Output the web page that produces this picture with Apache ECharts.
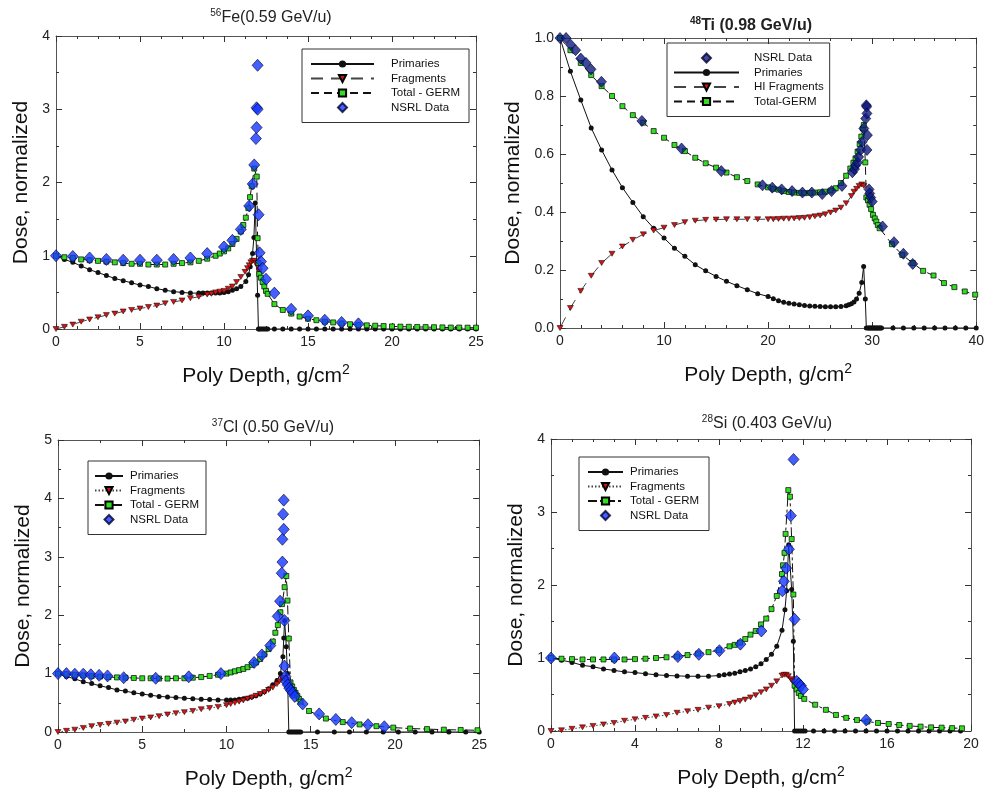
<!DOCTYPE html>
<html>
<head>
<meta charset="utf-8">
<script src="https://cdn.jsdelivr.net/npm/echarts@6/dist/echarts.min.js"></script>
<style>
  html, body { margin: 0; padding: 0; background: #fff; }
  .panel { position: absolute; }
</style>
</head>
<body>
<div id="fe" class="panel" style="left:0;top:0;width:490px;height:400px"></div>
<div id="ti" class="panel" style="left:490px;top:0;width:497px;height:400px"></div>
<div id="cl" class="panel" style="left:0;top:400px;width:490px;height:397px"></div>
<div id="si" class="panel" style="left:490px;top:400px;width:497px;height:397px"></div>
<script>
// ---------- 56Fe (0.59 GeV/u) ----------
const fePrimaries = [[0,1.00],[0.5,0.95],[1,0.91],[1.5,0.86],[2,0.81],[2.5,0.77],[3,0.73],[3.5,0.69],[4,0.66],[4.5,0.63],[5,0.60],[5.5,0.58],[6,0.55],[6.5,0.53],[7,0.51],[7.5,0.50],[8,0.49],[8.5,0.49],[8.75,0.49],[9,0.49],[9.25,0.49],[9.5,0.49],[9.75,0.49],[10,0.50],[10.25,0.51],[10.5,0.53],[10.75,0.55],[11,0.58],[11.3,0.65],[11.46,0.74],[11.56,0.85],[11.7,1.03],[11.78,1.25],[11.86,1.72],[12.0,0.46],[12.05,0],[12.1,0],[12.2,0],[12.3,0],[12.4,0],[12.5,0],[12.6,0],[13,0],[13.5,0],[14,0],[14.5,0],[15,0],[15.5,0],[16,0],[16.5,0],[17,0],[17.5,0],[18,0],[18.5,0],[19,0],[19.5,0],[20,0],[20.5,0],[21,0],[21.5,0],[22,0],[22.5,0],[23,0],[23.5,0],[24,0],[24.5,0],[25,0]];
const feFragments = [[0,0],[0.5,0.03],[1,0.06],[1.5,0.10],[2,0.13],[2.5,0.16],[3,0.19],[3.5,0.21],[4,0.24],[4.5,0.26],[5,0.28],[5.5,0.30],[6,0.32],[6.5,0.35],[7,0.37],[7.5,0.39],[8,0.42],[8.5,0.44],[9,0.47],[9.25,0.48],[9.5,0.50],[9.75,0.51],[10,0.52],[10.25,0.55],[10.5,0.58],[10.75,0.64],[11,0.71],[11.25,0.78],[11.4,0.83],[11.5,0.87],[11.6,0.91],[11.7,0.93],[11.8,0.93],[11.9,0.90],[12.0,0.85],[12.1,0.79]];
const feTotal = [[0,1.00],[0.5,0.98],[1,0.97],[1.5,0.95],[2,0.94],[2.5,0.93],[3,0.92],[3.5,0.91],[4,0.90],[4.5,0.89],[5,0.89],[5.5,0.88],[6,0.88],[6.5,0.88],[7,0.89],[7.5,0.90],[8,0.91],[8.5,0.93],[9,0.96],[9.5,1.00],[9.75,1.03],[10,1.06],[10.25,1.10],[10.5,1.16],[10.75,1.23],[11,1.33],[11.15,1.42],[11.3,1.52],[11.45,1.65],[11.55,1.80],[11.65,1.95],[11.8,2.19],[11.95,2.08],[12.0,1.24],[12.05,0.90],[12.1,0.75],[12.2,0.70],[12.3,0.64],[12.4,0.58],[12.5,0.52],[12.6,0.48],[13,0.34],[13.5,0.26],[14,0.21],[14.5,0.17],[15,0.14],[15.5,0.12],[16,0.10],[16.5,0.09],[17,0.075],[17.5,0.065],[18,0.055],[18.5,0.05],[19,0.045],[19.5,0.04],[20,0.035],[20.5,0.032],[21,0.03],[21.5,0.028],[22,0.026],[22.5,0.024],[23,0.022],[23.5,0.02],[24,0.02],[24.5,0.018],[25,0.018]];
const feNsrl = [[0,1.00],[1,0.99],[2,0.97],[3,0.95],[4,0.94],[5,0.94],[6,0.94],[7,0.95],[8,0.97],[9,1.03],[10,1.12],[10.5,1.21],[11,1.36],[11.5,1.68],[11.71,1.98],[11.8,2.24],[11.9,2.60],[11.94,2.75],[11.94,3.02],[12.0,3.00],[12.0,3.60],[12.06,1.56],[12.12,1.04],[12.2,0.92],[12.3,0.83],[12.5,0.68],[13,0.49],[14,0.27],[15,0.18],[16,0.12],[17,0.09],[18,0.07]];

// ---------- 48Ti (0.98 GeV/u) ----------
const tiPrimaries = [[0,1.0],[1,0.885],[2,0.786],[3,0.69],[4,0.614],[5,0.545],[6,0.484],[7,0.433],[8,0.384],[9,0.344],[10,0.31],[11,0.275],[12,0.247],[13,0.218],[14,0.197],[15,0.178],[16,0.161],[17,0.146],[18,0.132],[19,0.118],[20,0.109],[20.5,0.101],[21,0.094],[21.5,0.089],[22,0.085],[22.5,0.083],[23,0.080],[23.5,0.078],[24,0.076],[24.5,0.075],[25,0.074],[25.5,0.073],[26,0.073],[26.5,0.073],[27,0.074],[27.5,0.077],[27.75,0.080],[28,0.084],[28.25,0.09],[28.5,0.10],[28.75,0.12],[29,0.157],[29.18,0.212],[29.34,0.10],[29.44,0],[29.6,0],[29.7,0],[29.8,0],[29.9,0],[30,0],[30.1,0],[30.2,0],[30.3,0],[30.4,0],[30.5,0],[30.6,0],[30.7,0],[30.8,0],[30.9,0],[32,0],[33,0],[34,0],[35,0],[36,0],[37,0],[38,0],[39,0],[40,0]];
const tiFragments = [[0,0],[1,0.069],[2,0.128],[3,0.18],[4,0.224],[5,0.256],[6,0.281],[7,0.304],[8,0.323],[9,0.336],[10,0.346],[11,0.355],[12,0.365],[13,0.37],[14,0.373],[15,0.374],[16,0.375],[17,0.375],[18,0.375],[19,0.375],[20,0.375],[20.5,0.375],[21,0.376],[21.5,0.377],[22,0.377],[22.5,0.378],[23,0.379],[23.5,0.38],[24,0.382],[24.5,0.385],[25,0.388],[25.5,0.392],[26,0.398],[26.5,0.405],[27,0.415],[27.5,0.43],[28,0.455],[28.25,0.47],[28.5,0.48],[28.75,0.49],[29,0.495],[29.2,0.49]];
const tiTotal = [[0,1.0],[1,0.958],[2,0.914],[3,0.872],[4,0.834],[5,0.80],[6,0.765],[7,0.734],[8,0.708],[9,0.679],[10,0.656],[11,0.631],[12,0.61],[13,0.587],[14,0.568],[15,0.553],[16,0.536],[17,0.52],[18,0.507],[19,0.495],[20,0.485],[20.5,0.48],[21,0.477],[21.5,0.472],[22,0.469],[22.5,0.467],[23,0.466],[23.5,0.465],[24,0.466],[24.5,0.467],[25,0.468],[25.5,0.47],[26,0.474],[26.5,0.482],[27,0.50],[27.5,0.525],[27.9,0.55],[28.2,0.57],[28.4,0.585],[28.6,0.608],[28.8,0.634],[28.96,0.66],[29.1,0.688],[29.2,0.70],[29.34,0.571],[29.44,0.45],[29.6,0.44],[29.75,0.425],[29.9,0.41],[30.08,0.39],[30.25,0.378],[30.4,0.367],[30.55,0.355],[30.72,0.344],[31.9,0.289],[32.9,0.252],[33.9,0.224],[34.9,0.197],[35.9,0.181],[36.9,0.155],[37.9,0.141],[38.9,0.126],[39.9,0.115]];
const tiNsrl = [[0,1.0],[0.58,1.0],[1.02,0.977],[1.5,0.958],[2,0.929],[2.5,0.914],[2.98,0.892],[3.98,0.849],[7.87,0.714],[11.68,0.619],[15.5,0.541],[19.46,0.492],[20.4,0.484],[21.3,0.478],[22.3,0.472],[23.3,0.467],[24.2,0.467],[25.2,0.462],[26.1,0.472],[27.1,0.49],[28.1,0.537],[28.3,0.548],[28.4,0.56],[28.6,0.571],[28.7,0.59],[28.9,0.614],[29.05,0.642],[29.2,0.688],[29.38,0.722],[29.44,0.768],[29.47,0.763],[29.5,0.74],[29.54,0.665],[29.5,0.614],[29.7,0.478],[29.76,0.464],[29.86,0.45],[30.0,0.436],[31.0,0.35],[32.1,0.296],[33.0,0.256],[33.9,0.221]];

// ---------- 37Cl (0.50 GeV/u) ----------
const clPrimaries = [[0,1.0],[0.5,0.95],[1,0.91],[1.5,0.86],[2,0.83],[2.5,0.79],[3,0.76],[3.5,0.72],[4,0.70],[4.5,0.67],[5,0.65],[5.5,0.63],[6,0.61],[6.5,0.60],[7,0.59],[7.5,0.58],[8,0.57],[8.5,0.56],[9,0.555],[9.5,0.55],[10,0.55],[10.25,0.55],[10.5,0.55],[10.75,0.56],[11,0.57],[11.25,0.58],[11.5,0.60],[11.75,0.62],[12,0.65],[12.25,0.69],[12.5,0.74],[12.75,0.81],[13,0.88],[13.2,1.0],[13.35,1.29],[13.4,1.61],[13.45,1.91],[13.55,1.46],[13.62,1.0],[13.7,0],[13.8,0],[13.9,0],[14,0],[14.1,0],[14.2,0],[14.3,0],[14.4,0],[15.4,0],[16.4,0],[17.3,0],[18.3,0],[19.3,0],[20.2,0],[21.2,0],[22.2,0],[23.2,0],[24.2,0],[25,0]];
const clFragments = [[0,0],[0.5,0.02],[1,0.04],[1.5,0.07],[2,0.10],[2.5,0.12],[3,0.14],[3.5,0.16],[4,0.18],[4.5,0.21],[5,0.23],[5.5,0.25],[6,0.27],[6.5,0.30],[7,0.32],[7.5,0.34],[8,0.36],[8.5,0.39],[9,0.41],[9.5,0.43],[10,0.46],[10.25,0.48],[10.5,0.50],[10.75,0.52],[11,0.54],[11.25,0.57],[11.5,0.59],[11.75,0.62],[12,0.65],[12.25,0.68],[12.5,0.72],[12.75,0.76],[13,0.82],[13.15,0.87],[13.3,0.91],[13.45,0.93]];
const clTotal = [[0,1.0],[0.5,0.99],[1,0.98],[1.5,0.97],[2,0.96],[2.5,0.95],[3,0.94],[3.5,0.935],[4,0.93],[4.5,0.925],[5,0.92],[5.5,0.92],[6,0.915],[6.5,0.915],[7,0.92],[7.5,0.92],[8,0.93],[8.5,0.94],[9,0.96],[9.5,0.98],[10,1.0],[10.25,1.02],[10.5,1.04],[10.75,1.06],[11,1.08],[11.25,1.11],[11.5,1.15],[11.75,1.19],[12,1.25],[12.25,1.33],[12.5,1.42],[12.75,1.55],[12.9,1.70],[13.05,1.83],[13.2,2.05],[13.3,2.19],[13.45,2.48],[13.55,2.67],[13.62,2.25],[13.7,1.6],[13.8,0.85],[13.9,0.78],[14.0,0.72],[14.1,0.67],[14.2,0.62],[14.3,0.57],[14.4,0.52],[14.9,0.36],[15.9,0.23],[16.9,0.17],[17.9,0.13],[18.9,0.10],[19.9,0.075],[20.9,0.06],[21.9,0.05],[22.9,0.04],[23.9,0.035],[24.9,0.03]];
const clNsrl = [[0,1.0],[0.5,1.0],[1,0.99],[1.5,0.99],[1.95,0.98],[2.44,0.97],[2.94,0.96],[3.9,0.93],[5.8,0.92],[7.76,0.945],[9.67,1.0],[11.64,1.19],[12.1,1.32],[12.6,1.48],[13.04,1.98],[13.18,2.24],[13.28,2.72],[13.32,2.91],[13.32,3.30],[13.4,3.47],[13.36,3.73],[13.4,3.97],[13.44,1.91],[13.44,1.13],[13.5,0.95],[13.53,0.87],[13.63,0.81],[13.73,0.75],[13.83,0.71],[13.93,0.67],[14.05,0.61],[14.52,0.48],[15.5,0.31],[16.49,0.215],[17.43,0.16],[18.4,0.125],[19.37,0.09]];

// ---------- 28Si (0.403 GeV/u) ----------
const siPrimaries = [[0,1.0],[0.5,0.97],[1,0.94],[1.5,0.90],[2,0.88],[2.5,0.85],[3,0.83],[3.5,0.81],[4,0.80],[4.5,0.785],[5,0.77],[5.5,0.76],[6,0.755],[6.5,0.75],[7,0.75],[7.5,0.75],[8,0.76],[8.25,0.77],[8.5,0.78],[8.75,0.79],[9,0.81],[9.25,0.83],[9.5,0.85],[9.75,0.88],[10,0.92],[10.25,0.98],[10.5,1.05],[10.75,1.16],[11,1.38],[11.14,1.66],[11.22,1.92],[11.32,2.55],[11.46,1.94],[11.54,1.23],[11.6,0],[11.7,0],[11.8,0],[11.9,0],[12,0],[12.1,0],[12.5,0],[13,0],[13.5,0],[14,0],[14.5,0],[15,0],[15.5,0],[16,0],[16.5,0],[17,0],[17.5,0],[18,0],[18.5,0],[19,0],[19.5,0]];
const siFragments = [[0,0],[0.5,0.01],[1,0.03],[1.5,0.05],[2,0.07],[2.5,0.09],[3,0.11],[3.5,0.14],[4,0.16],[4.5,0.18],[5,0.20],[5.5,0.22],[6,0.25],[6.5,0.27],[7,0.29],[7.5,0.32],[8,0.34],[8.5,0.37],[8.75,0.39],[9,0.41],[9.25,0.43],[9.5,0.46],[9.75,0.49],[10,0.53],[10.25,0.57],[10.5,0.62],[10.75,0.68],[11,0.76],[11.1,0.77],[11.2,0.77],[11.3,0.75],[11.42,0.71],[11.5,0.68],[11.6,0.64]];
const siTotal = [[0,1.0],[0.5,0.99],[1,0.985],[1.5,0.98],[2,0.98],[2.5,0.98],[3,0.98],[3.5,0.98],[4,0.985],[4.5,0.99],[5,1.0],[5.5,1.01],[6,1.02],[6.5,1.04],[7,1.06],[7.5,1.08],[8,1.11],[8.5,1.16],[8.75,1.18],[9,1.21],[9.25,1.26],[9.5,1.32],[9.75,1.37],[10,1.46],[10.25,1.54],[10.5,1.67],[10.75,1.85],[11,2.15],[11.05,2.27],[11.12,2.44],[11.17,2.70],[11.30,3.30],[11.38,3.21],[11.46,2.63],[11.54,1.87],[11.6,0.62],[11.7,0.57],[11.8,0.52],[11.9,0.48],[12.06,0.44],[12.58,0.36],[13.09,0.29],[13.57,0.22],[14.06,0.18],[14.57,0.15],[15.07,0.13],[15.57,0.11],[16.08,0.096],[16.58,0.082],[17.08,0.07],[17.6,0.06],[18.1,0.05],[18.6,0.046],[19.1,0.04],[19.57,0.037]];
const siNsrl = [[0,1.0],[3.02,1.0],[6.04,1.02],[7.04,1.05],[8.02,1.10],[9.02,1.19],[10.02,1.37],[11.02,1.92],[11.09,2.05],[11.2,2.23],[11.33,2.49],[11.42,2.95],[11.55,3.72],[11.6,1.53],[11.7,0.68],[11.8,0.65],[11.9,0.62],[12.0,0.57],[15.01,0.15]];

const FONT = '"Liberation Sans", Arial, sans-serif';
const DIAMOND_ICON = 'path://M5,0L10,5L5,10L0,5Z';

function axisPair(min, max, interval, minorSplit, showLabel, position, fmt) {
  return {
    type: 'value', min: min, max: max, interval: interval, position: position,
    axisLine: { show: true, onZero: false, lineStyle: { color: '#555', width: 1 } },
    axisTick: { show: true, inside: true, length: 6, lineStyle: { color: '#333' } },
    minorTick: { show: true, splitNumber: minorSplit, length: 3, lineStyle: { color: '#333' } },
    splitLine: { show: false },
    axisLabel: { show: showLabel, fontSize: 14, color: '#222', fontFamily: FONT, margin: 6, formatter: fmt }
  };
}

function makePanel(id, p) {
  const chart = echarts.init(document.getElementById(id));
  const xMain = axisPair(0, p.xMax, p.xInt, p.xMinor, true, 'bottom');
  xMain.name = 'Poly Depth, g/cm{s|2}';
  xMain.nameLocation = 'middle';
  xMain.nameGap = p.xNameGap;
  xMain.nameTextStyle = { fontSize: 21, color: '#111', fontFamily: FONT, lineHeight: 26,
    rich: { s: { fontSize: 14, verticalAlign: 'top', lineHeight: 14, fontFamily: FONT, color: '#111' } } };
  const yMain = axisPair(0, p.yMax, p.yInt, p.yMinor, true, 'left', p.yFmt);
  yMain.name = 'Dose, normalized';
  yMain.nameLocation = 'middle';
  yMain.nameGap = p.yNameGap;
  yMain.nameTextStyle = { fontSize: 21, color: '#111', fontFamily: FONT };

  const series = [
    { name: p.labels.prim, type: 'line', data: p.prim, symbol: 'circle', symbolSize: 5, z: 2,
      itemStyle: { color: '#111' }, lineStyle: { color: '#111', width: 1 } },
    { name: p.labels.frag, type: 'line', data: p.frag, symbol: 'triangle', symbolRotate: 180, symbolSize: [6, 5], z: 3,
      itemStyle: { color: '#d41414', borderColor: '#000', borderWidth: 0.5 },
      lineStyle: { color: '#444', width: 1, type: p.fragDash } },
    { name: p.labels.total, type: 'line', data: p.total, symbol: 'rect', symbolSize: 5, z: 4,
      itemStyle: { color: '#33dd22', borderColor: '#000', borderWidth: 0.7 },
      lineStyle: { color: '#111', width: 1, type: p.totalDash } },
    { name: p.labels.nsrl, type: 'scatter', data: p.nsrl, symbol: 'diamond', symbolSize: p.diaSize, z: 5,
      itemStyle: { color: p.diaColor, borderColor: '#000030', borderWidth: 0.8 } }
  ];

  const legendData = p.leg.order.map(function (n) {
    return n === p.labels.nsrl ? { name: n, icon: DIAMOND_ICON } : { name: n };
  });

  chart.setOption({
    animation: false,
    title: {
      text: '{s|' + p.mass + '}{m|' + p.title + '}',
      left: p.titleX, top: p.titleY, textAlign: 'center',
      textStyle: {
        rich: {
          s: { fontSize: 10, verticalAlign: 'top', lineHeight: 10, fontFamily: FONT, color: '#222', fontWeight: p.titleWeight },
          m: { fontSize: 16, lineHeight: 20, fontFamily: FONT, color: '#222', fontWeight: p.titleWeight }
        }
      }
    },
    grid: { left: p.grid[0], top: p.grid[1], width: p.grid[2], height: p.grid[3], containLabel: false },
    xAxis: [xMain, axisPair(0, p.xMax, p.xInt, p.xMinor, false, 'top')],
    yAxis: [yMain, axisPair(0, p.yMax, p.yInt, p.yMinor, false, 'right')],
    legend: {
      orient: 'vertical', left: p.leg.left, top: p.leg.top,
      itemWidth: p.leg.iconW, itemHeight: 9, itemGap: 2.5,
      padding: p.leg.pad, borderColor: '#333', borderWidth: 1,
      selectedMode: false, symbolKeepAspect: true,
      textStyle: { fontSize: 11.5, color: '#111', fontFamily: FONT, padding: [0, 0, 0, p.leg.textGap] },
      data: legendData
    },
    series: series
  });
}

makePanel('fe', {
  mass: '56', title: 'Fe(0.59 GeV/u)', titleX: 266, titleY: 3, titleWeight: 'normal',
  grid: [56, 36, 420, 293], xMax: 25, xInt: 5, xMinor: 4, yMax: 4, yInt: 1, yMinor: 2,
  xNameGap: 34, yNameGap: 24,
  prim: fePrimaries, frag: feFragments, total: feTotal, nsrl: feNsrl,
  labels: { prim: 'Primaries', frag: 'Fragments', total: 'Total - GERM', nsrl: 'NSRL Data' },
  fragDash: [12, 8], totalDash: [8, 5], diaSize: [11, 12], diaColor: '#1437ff',
  leg: { left: 302, top: 49, iconW: 63, textGap: 12, pad: [9, 9, 9, 8],
         order: ['Primaries', 'Fragments', 'Total - GERM', 'NSRL Data'] }
});

makePanel('ti', {
  mass: '48', title: 'Ti (0.98 GeV/u)', titleX: 256, titleY: 11, titleWeight: 'bold',
  grid: [70, 38, 417, 290], xMax: 40, xInt: 10, xMinor: 5, yMax: 1, yInt: 0.2, yMinor: 2,
  yFmt: function (v) { return v.toFixed(1); },
  xNameGap: 34, yNameGap: 35,
  prim: tiPrimaries, frag: tiFragments, total: tiTotal, nsrl: tiNsrl,
  labels: { prim: 'Primaries', frag: 'HI Fragments', total: 'Total-GERM', nsrl: 'NSRL Data' },
  fragDash: [12, 8], totalDash: [8, 5], diaSize: [10, 11], diaColor: '#0e1c80',
  leg: { left: 177, top: 43, iconW: 65, textGap: 10, pad: [9, 6, 9, 6],
         order: ['NSRL Data', 'Primaries', 'HI Fragments', 'Total-GERM'] }
});

makePanel('cl', {
  mass: '37', title: 'Cl (0.50 GeV/u)', titleX: 268, titleY: 13, titleWeight: 'normal',
  grid: [58, 40, 423, 294], xMax: 25, xInt: 5, xMinor: 2, yMax: 5, yInt: 1, yMinor: 2,
  xNameGap: 34, yNameGap: 22,
  prim: clPrimaries, frag: clFragments, total: clTotal, nsrl: clNsrl,
  labels: { prim: 'Primaries', frag: 'Fragments', total: 'Total - GERM', nsrl: 'NSRL Data' },
  fragDash: [1.5, 2], totalDash: [9, 3, 3, 3], diaSize: [11, 12], diaColor: '#1437ff',
  leg: { left: 88, top: 61, iconW: 28, textGap: 2, pad: [9, 7, 9, 6],
         order: ['Primaries', 'Fragments', 'Total - GERM', 'NSRL Data'] }
});

makePanel('si', {
  mass: '28', title: 'Si (0.403 GeV/u)', titleX: 272, titleY: 9, titleWeight: 'normal',
  grid: [61, 39, 420, 292], xMax: 20, xInt: 4, xMinor: 4, yMax: 4, yInt: 1, yMinor: 2,
  xNameGap: 34, yNameGap: 24,
  prim: siPrimaries, frag: siFragments, total: siTotal, nsrl: siNsrl,
  labels: { prim: 'Primaries', frag: 'Fragments', total: 'Total - GERM', nsrl: 'NSRL Data' },
  fragDash: [1.5, 2], totalDash: [9, 3, 3, 3], diaSize: [11, 12], diaColor: '#1437ff',
  leg: { left: 89, top: 57, iconW: 35, textGap: 2, pad: [9, 10, 9, 8],
         order: ['Primaries', 'Fragments', 'Total - GERM', 'NSRL Data'] }
});
</script>
</body>
</html>
